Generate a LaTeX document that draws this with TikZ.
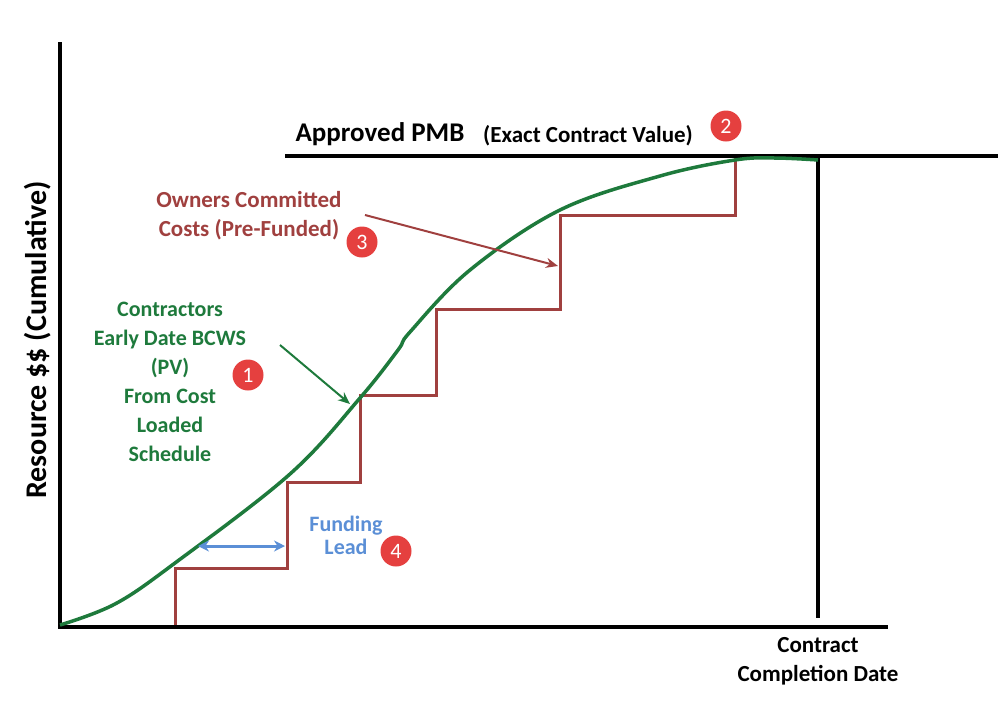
\documentclass[tikz,border=0pt]{standalone}
\usepackage{fontspec}
\setmainfont{Carlito}
\usetikzlibrary{arrows.meta}
\definecolor{brn}{HTML}{A0403F}
\definecolor{grn}{HTML}{1E7A3C}
\definecolor{blu}{HTML}{5B8FD6}
\definecolor{badge}{HTML}{E5403F}
\begin{document}
\begin{tikzpicture}[x=1pt,y=-1pt,
  axis/.style={line width=3.5pt,black},
  stairs/.style={line width=3pt,brn},
  badge/.style={circle,fill=badge,text=white,minimum size=31pt,inner sep=0pt,font=\fontsize{22}{22}\selectfont},
  lbl/.style={font=\bfseries\fontsize{22}{29}\selectfont,align=center}]
\useasboundingbox (0,0) rectangle (998,705);
\coordinate (yt) at (60,42); \coordinate (o) at (60,627); \coordinate (xe) at (888,627);
\draw[axis] (yt) -- (o) -- (xe);
\coordinate (p1) at (285,156); \coordinate (p2) at (998,156);
\draw[axis] (p1) -- (p2);
\coordinate (c1) at (818,156); \coordinate (c2) at (818,618);
\draw[axis] (c1) -- (c2);
\draw[stairs] (175,625) -- (175,568) -- (287,568) -- (287,482) -- (360,482) -- (360,395) -- (436,395) -- (436,309) -- (560,309) -- (560,215) -- (735,215) -- (735,158);
\draw[line width=3.5pt,grn] plot[smooth,tension=0.6] coordinates {(60,625) (115,604) (175,563) (290,474) (360,398) (398,350) (410,332) (470,270) (560,210) (660,176) (735,160) (775,158) (818,160)};
\coordinate (f1) at (198,546); \coordinate (f2) at (285,546);
\draw[blu,line width=3pt,{Stealth[length=11pt,width=11pt]}-{Stealth[length=11pt,width=11pt]}] (f1) -- (f2);
\coordinate (g1) at (280,345); \coordinate (g2) at (350,404);
\draw[grn,line width=2pt,-{Stealth[length=12pt,width=10pt]}] (g1) -- (g2);
\coordinate (r1) at (365,215); \coordinate (r2) at (558,266);
\draw[brn,line width=2pt,-{Stealth[length=12pt,width=10pt]}] (r1) -- (r2);
\node[font=\bfseries\fontsize{27}{27}\selectfont] (pmb) at (380,134) {Approved PMB};
\node[font=\bfseries\fontsize{23}{23}\selectfont] (ecv) at (588,136) {(Exact Contract Value)};
\node[badge] (b2) at (726,126) {2};
\node[lbl,text=brn,font=\bfseries\fontsize{23}{29}\selectfont] (own) at (249,216) {Owners Committed\\Costs (Pre-Funded)};
\node[badge] (b3) at (362,242) {3};
\node[lbl,text=grn] (ctr) at (170,382) {Contractors\\Early Date BCWS\\(PV)\\From Cost\\Loaded\\Schedule};
\node[badge] (b1) at (248,375) {1};
\node[lbl,text=blu,font=\bfseries\fontsize{22}{23}\selectfont] (fund) at (346,535) {Funding\\Lead};
\node[badge] (b4) at (396,551) {4};
\node[rotate=90,font=\bfseries\fontsize{30}{30}\selectfont] (yl) at (38,340) {Resource \$\$ (Cumulative)};
\node[lbl,font=\bfseries\fontsize{23}{29}\selectfont] (ccd) at (818,661) {Contract\\Completion Date};
\end{tikzpicture}
\end{document}
